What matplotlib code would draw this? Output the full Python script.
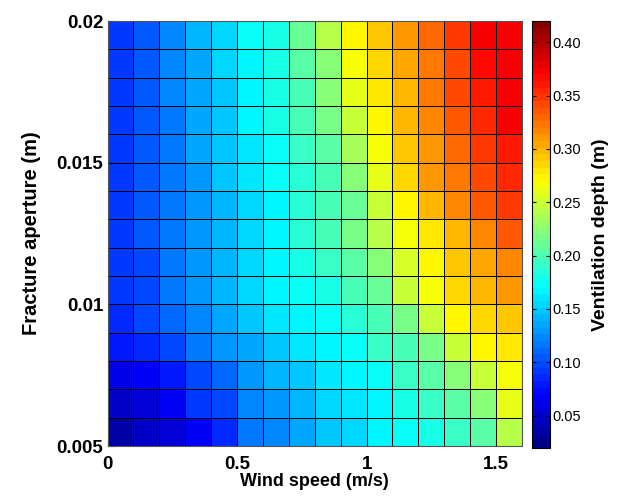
import numpy as np
import matplotlib
matplotlib.use("Agg")
import matplotlib.pyplot as plt
from matplotlib.colors import ListedColormap

plt.rcParams['font.family'] = ['Liberation Sans', 'DejaVu Sans']
plt.rcParams['font.weight'] = 'bold'

# Cell edges
wind_speed_edges = np.round(np.arange(0, 1.6001, 0.1), 3)       # 17 edges -> 16 columns
aperture_edges = np.round(np.arange(0.005, 0.02001, 0.001), 4)  # 16 edges -> 15 rows

# Ventilation depth (m), rows listed from top (aperture 0.019-0.020) to bottom (0.005-0.006)
depth_rows_top_to_bottom = [
    [0.090, 0.103, 0.120, 0.139, 0.154, 0.170, 0.182, 0.212, 0.244, 0.270, 0.290, 0.308, 0.328, 0.350, 0.370, 0.375],
    [0.090, 0.103, 0.120, 0.137, 0.153, 0.168, 0.180, 0.205, 0.225, 0.266, 0.287, 0.304, 0.322, 0.342, 0.368, 0.375],
    [0.090, 0.103, 0.120, 0.137, 0.150, 0.167, 0.178, 0.200, 0.222, 0.258, 0.278, 0.298, 0.320, 0.340, 0.362, 0.375],
    [0.090, 0.103, 0.119, 0.133, 0.148, 0.165, 0.178, 0.195, 0.215, 0.248, 0.273, 0.295, 0.318, 0.335, 0.356, 0.374],
    [0.090, 0.103, 0.119, 0.133, 0.146, 0.163, 0.175, 0.190, 0.205, 0.237, 0.266, 0.291, 0.308, 0.328, 0.346, 0.362],
    [0.090, 0.102, 0.118, 0.131, 0.145, 0.160, 0.173, 0.188, 0.200, 0.222, 0.260, 0.288, 0.308, 0.326, 0.342, 0.354],
    [0.090, 0.102, 0.117, 0.130, 0.143, 0.156, 0.168, 0.186, 0.198, 0.213, 0.245, 0.273, 0.296, 0.318, 0.334, 0.346],
    [0.090, 0.102, 0.116, 0.130, 0.142, 0.155, 0.167, 0.185, 0.200, 0.216, 0.240, 0.266, 0.282, 0.298, 0.318, 0.334],
    [0.090, 0.100, 0.115, 0.128, 0.140, 0.155, 0.168, 0.180, 0.190, 0.205, 0.220, 0.254, 0.273, 0.291, 0.303, 0.318],
    [0.090, 0.100, 0.115, 0.128, 0.140, 0.152, 0.165, 0.172, 0.180, 0.195, 0.210, 0.245, 0.268, 0.283, 0.296, 0.308],
    [0.088, 0.097, 0.112, 0.122, 0.135, 0.145, 0.160, 0.167, 0.172, 0.185, 0.200, 0.218, 0.250, 0.271, 0.283, 0.292],
    [0.077, 0.086, 0.095, 0.117, 0.128, 0.137, 0.150, 0.163, 0.167, 0.175, 0.190, 0.200, 0.218, 0.245, 0.270, 0.281],
    [0.062, 0.067, 0.080, 0.100, 0.108, 0.128, 0.140, 0.147, 0.162, 0.168, 0.176, 0.190, 0.205, 0.220, 0.245, 0.268],
    [0.047, 0.054, 0.064, 0.090, 0.100, 0.120, 0.128, 0.140, 0.152, 0.160, 0.168, 0.178, 0.190, 0.205, 0.220, 0.258],
    [0.036, 0.046, 0.054, 0.066, 0.086, 0.117, 0.125, 0.135, 0.146, 0.154, 0.167, 0.172, 0.180, 0.190, 0.205, 0.240],
]

x_ticks = [0, 0.5, 1, 1.5]
x_tick_labels = ["0", "0.5", "1", "1.5"]
y_ticks = [0.005, 0.01, 0.015, 0.02]
y_tick_labels = ["0.005", "0.01", "0.015", "0.02"]
cbar_ticks = [0.05, 0.10, 0.15, 0.20, 0.25, 0.30, 0.35, 0.40]
vmin, vmax = 0.02, 0.42

Z = np.array(depth_rows_top_to_bottom)[::-1]

# MATLAB-style jet colormap (64 levels)
t = (np.arange(64) + 0.5) / 64
r = np.clip(1.5 - np.abs(4 * t - 3), 0, 1)
g = np.clip(1.5 - np.abs(4 * t - 2), 0, 1)
b = np.clip(1.5 - np.abs(4 * t - 1), 0, 1)
cmap = ListedColormap(np.column_stack([r, g, b]))

fig = plt.figure(figsize=(6.23, 4.98), dpi=100)
ax = fig.add_axes([0.1726, 0.1044, 0.6653, 0.8534])
cax = fig.add_axes([0.8539, 0.1014, 0.0289, 0.8564])

mesh = ax.pcolormesh(wind_speed_edges, aperture_edges, Z, cmap=cmap, vmin=vmin, vmax=vmax,
                     edgecolors='black', linewidth=0.6)
ax.set_xlim(0, 1.6)
ax.set_ylim(0.005, 0.02)
ax.set_xticks(x_ticks)
ax.set_xticklabels(x_tick_labels)
ax.set_yticks(y_ticks)
ax.set_yticklabels(y_tick_labels)
ax.tick_params(direction='in', labelsize=13.5, length=4)
ax.tick_params(axis='x', pad=7)
ax.tick_params(axis='y', pad=3)
for lab in ax.get_xticklabels() + ax.get_yticklabels():
    lab.set_fontweight('bold')
ax.set_xlabel("Wind speed (m/s)", fontsize=13, fontweight='bold', labelpad=0)
ax.set_ylabel("Fracture aperture (m)", fontsize=14.5, fontweight='bold', labelpad=11)
for s in ax.spines.values():
    s.set_color('#555555')

cb = fig.colorbar(mesh, cax=cax, ticks=cbar_ticks)
cb.ax.set_yticklabels([f"{v:.2f}" for v in cbar_ticks])
cb.ax.tick_params(direction='in', labelsize=10.5, length=3, pad=2, left=True, right=True)
for lab in cb.ax.get_yticklabels():
    lab.set_fontweight('normal')
cb.set_label("Ventilation depth (m)", fontsize=14, fontweight='bold', labelpad=8)
cb.outline.set_edgecolor('black')

fig.savefig("out.png", dpi=100)
